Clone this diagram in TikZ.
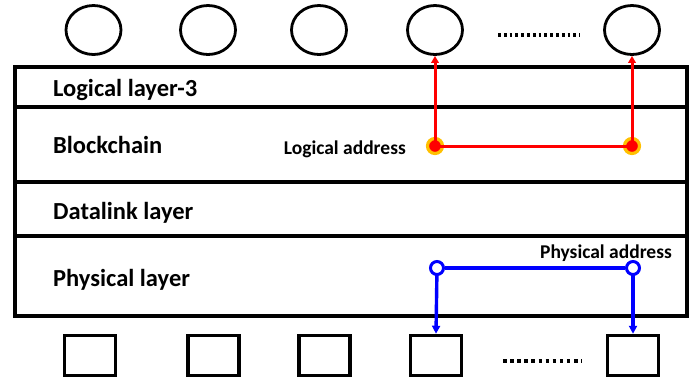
\documentclass[tikz,border=0pt]{standalone}
\usepackage{fontspec}
\setmainfont{Carlito}
\usetikzlibrary{arrows.meta,shapes.geometric}
\definecolor{gold}{HTML}{FFC000}
\begin{document}
\begin{tikzpicture}[x=1pt,y=-1pt,
  peer/.style={draw,line width=2.8pt,ellipse,minimum width=55pt,minimum height=49pt,inner sep=0pt},
  dev/.style={draw,line width=3.5pt,rectangle,minimum width=51pt,minimum height=40pt,inner sep=0pt},
  layertext/.style={anchor=base west,font=\bfseries\fontsize{24.5}{28}\selectfont,inner sep=0pt},
  addrtext/.style={anchor=base east,font=\bfseries\fontsize{19.5}{23}\selectfont,inner sep=0pt},
  layerline/.style={line width=3.6pt},
  redline/.style={draw=red,line width=3pt},
  blueline/.style={draw=blue,line width=3.4pt},
  reddot/.style={circle,fill=red,draw=gold,line width=3.2pt,minimum size=15pt,inner sep=0pt},
  redcore/.style={circle,fill=red,minimum size=10pt,inner sep=0pt},
  bluedot/.style={circle,fill=white,draw=blue,line width=3pt,minimum size=13pt,inner sep=0pt},
  dotrow/.style={line width=3.2pt,dash pattern=on 2.8pt off 3pt}
]
\useasboundingbox (0,0) rectangle (695,381);
% top peers
\node[peer] (c1) at (93.5,30) {};
\node[peer] (c2) at (208,30) {};
\node[peer] (c3) at (319,30) {};
\node[peer] (c4) at (435,30) {};
\node[peer] (c5) at (632,30) {};
\coordinate (td1) at (498,35);
\coordinate (td2) at (580,35);
\draw[dotrow] (td1) -- (td2);
% layers box
\coordinate (bNW) at (15,67);
\coordinate (bSE) at (687,316);
\draw[layerline] (bNW) rectangle (bSE);
\coordinate (l1w) at (15,107); \coordinate (l1e) at (687,107);
\coordinate (l2w) at (15,182); \coordinate (l2e) at (687,182);
\coordinate (l3w) at (15,236); \coordinate (l3e) at (687,236);
\draw[layerline] (l1w) -- (l1e);
\draw[layerline] (l2w) -- (l2e);
\draw[layerline] (l3w) -- (l3e);
\node[layertext] (t1) at (53,96) {Logical layer-3};
\node[layertext] (t2) at (53,153) {Blockchain};
\node[layertext] (t3) at (53,219) {Datalink layer};
\node[layertext] (t4) at (53,286) {Physical layer};
\node[addrtext] (la) at (406,154) {Logical address};
\node[addrtext] (pa) at (672,258) {Physical address};
% bottom devices
\node[dev] (s1) at (90,355.5) {};
\node[dev] (s2) at (213.5,355.5) {};
\node[dev] (s3) at (324.5,355.5) {};
\node[dev] (s4) at (436,355.5) {};
\node[dev] (s5) at (633,355.5) {};
\coordinate (bd1) at (503,361);
\coordinate (bd2) at (582,361);
\draw[dotrow,dash pattern=on 3.5pt off 3.6pt] (bd1) -- (bd2);
% logical address path
\node[reddot] (r1) at (435,146) {};
\node[reddot] (r2) at (632,146) {};
\draw[redline,-{Triangle[length=7pt,width=7.5pt]}] (r1.center) -- (c4.south);
\draw[redline,-{Triangle[length=7pt,width=7.5pt]}] (r2.center) -- (c5.south);
\draw[redline] (r1.center) -- (r2.center);
\node[redcore] (r1c) at (r1) {};
\node[redcore] (r2c) at (r2) {};
% physical address path
\draw[blueline,-{Triangle[length=8pt,width=8pt]}] (437,268) -- (s4.north);
\draw[blueline,-{Triangle[length=8pt,width=8pt]}] (633,268) -- (s5.north);
\node[bluedot] (b1) at (437,268) {};
\node[bluedot] (b2) at (633,268) {};
\draw[blueline] (b1) -- (b2);
\end{tikzpicture}
\end{document}
